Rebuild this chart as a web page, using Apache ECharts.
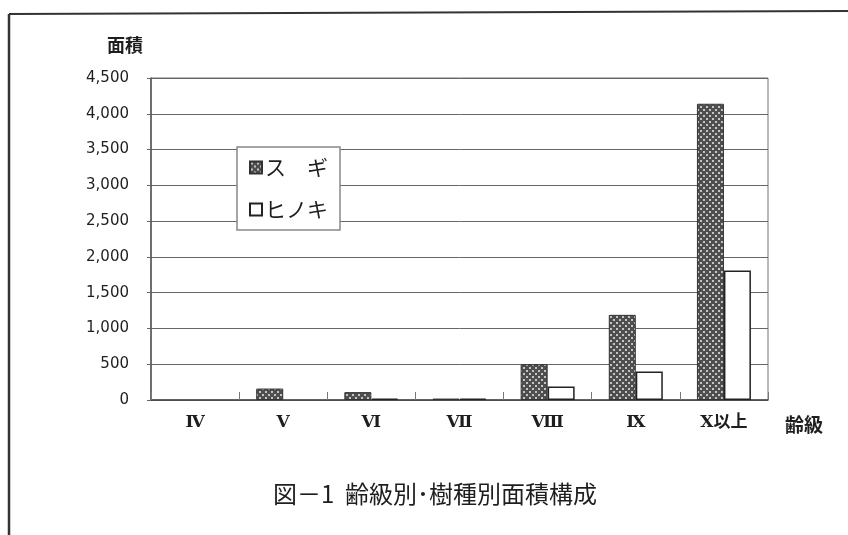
<!DOCTYPE html>
<html>
<head>
<meta charset="utf-8">
<script src="https://cdn.jsdelivr.net/npm/echarts@6/dist/echarts.min.js"></script>
<style>
  html, body { margin: 0; padding: 0; background: #fff; }
  #chart { width: 848px; height: 535px; }
</style>
</head>
<body>
<div id="chart"></div>
<script>
// 齢級区分
const ageClasses = ['Ⅳ', 'Ⅴ', 'Ⅵ', 'Ⅶ', 'Ⅷ', 'Ⅸ', 'Ⅹ以上'];
// 樹種別面積 (ha)
const sugiArea = [0, 160, 110, 20, 500, 1190, 4140];
const hinokiArea = [0, 0, 20, 20, 190, 400, 1810];
// 縦軸目盛
const yTicks = [0, 500, 1000, 1500, 2000, 2500, 3000, 3500, 4000, 4500];

// スギの網掛け模様
function makeDotPattern() {
  const c = document.createElement('canvas');
  c.width = 6; c.height = 6;
  const g = c.getContext('2d');
  g.fillStyle = '#4e4e4e';
  g.fillRect(0, 0, 6, 6);
  g.fillStyle = '#c4c4c4';
  g.fillRect(1, 1, 2, 2);
  g.fillRect(4, 4, 2, 2);
  return c;
}

// 面積 0 の棒は枠線を描かない
const toBarData = arr => arr.map(v => (v === 0 ? { value: v, itemStyle: { borderWidth: 0 } } : v));

const chart = echarts.init(document.getElementById('chart'), null, { renderer: 'canvas' });
const jpFont = '"Noto Sans CJK JP", sans-serif';
const numFont = '"DejaVu Sans", "Liberation Sans", sans-serif';

chart.setOption({
  animation: false,
  backgroundColor: '#fff',
  title: {
    text: '図－1  齢級別･樹種別面積構成',
    left: 430,
    top: 477,
    textAlign: 'center',
    textStyle: { fontFamily: jpFont, fontSize: 24, fontWeight: 'normal', color: '#1e1e1e' }
  },
  legend: {
    orient: 'vertical',
    left: 237,
    top: 147,
    padding: [10, 12, 10, 12],
    itemGap: 21,
    itemWidth: 12,
    itemHeight: 12,
    icon: 'rect',
    backgroundColor: '#fff',
    borderColor: '#888',
    borderWidth: 1.5,
    data: ['スギ', 'ヒノキ'],
    formatter: n => (n === 'スギ' ? 'ス　ギ' : n),
    textStyle: { fontFamily: jpFont, fontSize: 21, color: '#1e1e1e', padding: [0, 0, 0, -2] }
  },
  grid: {
    left: 151, right: 80, top: 78, bottom: 135,
    show: true, borderColor: '#777', borderWidth: 1
  },
  xAxis: {
    type: 'category',
    data: ageClasses,
    name: '齢級',
    nameLocation: 'end',
    nameGap: 17,
    nameTextStyle: { fontFamily: jpFont, fontSize: 19, color: '#1e1e1e', fontWeight: 'bold', verticalAlign: 'top', padding: [15, 0, 0, 0] },
    axisLine: { lineStyle: { color: '#444', width: 1.5 } },
    axisTick: { show: true, inside: true, length: 8, lineStyle: { color: '#777' } },
    axisLabel: {
      margin: 14,
      fontFamily: '"DejaVu Serif", "Liberation Serif", "Noto Sans CJK JP", serif',
      fontSize: 17,
      fontWeight: 'bold',
      color: '#1e1e1e'
    }
  },
  yAxis: {
    type: 'value',
    min: 0,
    max: yTicks[yTicks.length - 1],
    interval: yTicks[1] - yTicks[0],
    name: '面積',
    nameLocation: 'end',
    nameGap: 24,
    nameTextStyle: { fontFamily: jpFont, fontSize: 18, color: '#1e1e1e', fontWeight: 'bold', align: 'center', padding: [0, 52, 0, 0] },
    axisLine: { show: true, lineStyle: { color: '#555', width: 1.5 } },
    axisTick: { show: true, length: 4, lineStyle: { color: '#666' } },
    splitLine: { lineStyle: { color: '#666', width: 1 } },
    axisLabel: {
      margin: 22,
      fontFamily: numFont,
      fontSize: 15,
      color: '#1e1e1e',
      formatter: v => v.toLocaleString('en-US')
    }
  },
  series: [
    {
      name: 'スギ',
      type: 'bar',
      data: toBarData(sugiArea),
      barWidth: 27,
      barGap: '0%',
      itemStyle: { color: { image: makeDotPattern(), repeat: 'repeat' }, borderColor: '#333', borderWidth: 1 }
    },
    {
      name: 'ヒノキ',
      type: 'bar',
      data: toBarData(hinokiArea),
      barWidth: 27,
      itemStyle: { color: '#fff', borderColor: '#222', borderWidth: 1.5 }
    }
  ],
  graphic: [
    { type: 'line', shape: { x1: 9, y1: 14, x2: 848, y2: 11 }, style: { stroke: '#333', lineWidth: 2 } },
    { type: 'line', shape: { x1: 9, y1: 14, x2: 9, y2: 535 }, style: { stroke: '#333', lineWidth: 2.5 } }
  ]
});
</script>
</body>
</html>
